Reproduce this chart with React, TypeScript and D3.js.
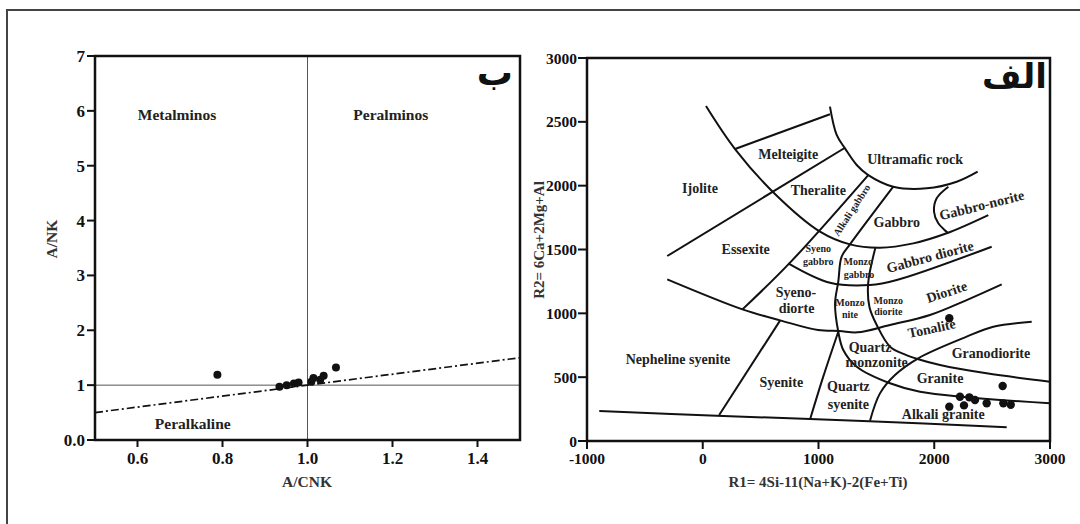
import React from "react";
import * as d3 from "d3";

// ---- left chart (A/CNK vs A/NK) ----
const acnk = [0.788, 0.934, 0.951, 0.968, 0.979, 1.009, 1.014, 1.03, 1.038, 1.067];
const ank = [1.19, 0.97, 1.0, 1.03, 1.05, 1.06, 1.13, 1.1, 1.17, 1.32];
const leftXTicks = [0.6, 0.8, 1.0, 1.2, 1.4];
const leftYTicks = [0, 1, 2, 3, 4, 5, 6, 7];
const leftLabels: [string, number, number][] = [
  ["Metalminos", 0.693, 5.93],
  ["Peralminos", 1.196, 5.93],
  ["Peralkaline", 0.73, 0.29],
];
const alkalineLine = [[0.5, 0.5], [1.5, 1.5]];

// ---- right chart (R1-R2 De la Roche) ----
const r1 = [2130, 2591, 2222, 2303, 2352, 2453, 2597, 2661, 2130, 2257];
const r2 = [961, 431, 347, 342, 321, 295, 295, 284, 269, 279];
const rightXTicks = [-1000, 0, 1000, 2000, 3000];
const rightYTicks = [0, 500, 1000, 1500, 2000, 2500, 3000];

const outerCurve = [[28, 2624], [279, 2287], [624, 1935], [1013, 1640], [1272, 1540], [1531, 1514], [1819, 1548], [2107, 1627], [2467, 1770]];
const ultramaficCurve = [[1099, 2619], [1157, 2397], [1229, 2292], [1330, 2162], [1430, 2083], [1646, 1992], [1935, 1979], [2194, 2031], [2375, 2110]];
const melteigiteTop = [[279, 2287], [1099, 2559]];
const essexiteTop = [[-307, 1449], [1229, 2297]];
const alkaliGabbroLeft = [[1430, 2083], [754, 1397], [343, 1031]];
const alkaliGabbroRight = [[1646, 1992], [1272, 1540], [1200, 1444], [1171, 1248], [1143, 1078], [1171, 856], [1214, 713], [1330, 582], [1618, 452], [1877, 386], [3000, 295]];
const dioriteTop = [[739, 1392], [1099, 1240], [1445, 1222], [1676, 1261], [2496, 1522]];
const monzodioriteCurve = [[1491, 1512], [1429, 1235], [1440, 1050], [1503, 909], [1618, 739], [1740, 680], [1863, 640], [2050, 595], [2452, 530], [3000, 465]];
const tonaliteTop = [[-307, 1266], [343, 1031], [669, 945], [996, 869], [1181, 862], [1336, 851], [1618, 909], [1963, 987], [2280, 1104], [2583, 1227]];
const syeniteLeft = [[142, 204], [669, 945]];
const quartzSyeniteLeft = [[930, 178], [1041, 504], [1171, 856]];
const granodioriteBottom = [[1445, 159], [1531, 373], [1661, 517], [1862, 648], [2280, 817], [2510, 895], [2842, 935]];
const baseLine = [[-894, 235], [120, 198], [1439, 155], [2626, 107]];
const gabbroNoriteBracket = [[2122, 1992], [2021, 1901], [1998, 1796], [2035, 1705], [2122, 1627]];

const fields = [outerCurve, ultramaficCurve, melteigiteTop, essexiteTop, alkaliGabbroLeft, alkaliGabbroRight,
  dioriteTop, monzodioriteCurve, tonaliteTop, syeniteLeft, quartzSyeniteLeft, granodioriteBottom, baseLine, gabbroNoriteBracket];

// [text, R1, R2, fontSize, rotation]
const rockLabels: [string, number, number, number, number][] = [
  ["Melteigite", 739, 2248, 14, 0],
  ["Ultramafic rock", 1834, 2206, 14, 0],
  ["Ijolite", -24, 1979, 14, 0],
  ["Theralite", 998, 1966, 14, 0],
  ["Alkali gabbro", 1287, 1809, 10, -57],
  ["Gabbro", 1676, 1718, 14, 0],
  ["Gabbro-norite", 2410, 1848, 14, -14],
  ["Essexite", 371, 1501, 14, 0],
  ["Syeno", 998, 1509, 10, 0],
  ["gabbro", 998, 1404, 10, 0],
  ["Monzo", 1344, 1404, 10, 0],
  ["gabbro", 1350, 1308, 10, 0],
  ["Gabbro diorite", 1963, 1444, 14, -15],
  ["Syeno-", 805, 1169, 14, 0],
  ["diorte", 810, 1039, 14, 0],
  ["Monzo", 1272, 1083, 10, 0],
  ["nite", 1272, 987, 10, 0],
  ["Monzo", 1603, 1104, 10, 0],
  ["diorite", 1603, 1013, 10, 0],
  ["Diorite", 2107, 1169, 14, -18],
  ["Tonalite", 1978, 883, 14, -12],
  ["Quartz", 1445, 739, 14, 0],
  ["monzonite", 1503, 621, 14, 0],
  ["Granodiorite", 2490, 692, 14, 0],
  ["Granite", 2050, 496, 14, 0],
  ["Quartz", 1258, 431, 14, 0],
  ["syenite", 1258, 290, 14, 0],
  ["Alkali granite", 2078, 211, 14, 0],
  ["Syenite", 679, 460, 14, 0],
  ["Nepheline syenite", -214, 642, 14, 0],
];

const serif = "'Liberation Serif', 'Times New Roman', serif";
const arabic = "'DejaVu Sans', sans-serif";

export default function App() {
  const lx = d3.scaleLinear().domain([0.5, 1.5]).range([95, 520]);
  const ly = d3.scaleLinear().domain([0, 7]).range([440, 56]);
  const rx = d3.scaleLinear().domain([-1000, 3000]).range([587, 1050]);
  const ry = d3.scaleLinear().domain([0, 3000]).range([441, 58]);

  const leftLine = d3.line<number[]>().x(d => lx(d[0])).y(d => ly(d[1]));
  const fieldLine = d3.line<number[]>().x(d => rx(d[0])).y(d => ry(d[1])).curve(d3.curveCatmullRom.alpha(0.5));

  return (
    <div style={{ position: "absolute", left: 0, top: 0 }}>
      <svg width={1080} height={524} style={{ display: "block", background: "#fff", fontFamily: serif, fontWeight: "bold" }}>
        <rect x={7} y={10} width={1200} height={700} fill="none" stroke="#444" strokeWidth={2} />

        {/* left chart */}
        <line x1={lx(1)} x2={lx(1)} y1={ly(7)} y2={ly(0)} stroke="#555" strokeWidth={1} />
        <line x1={lx(0.5)} x2={lx(1.5)} y1={ly(1)} y2={ly(1)} stroke="#555" strokeWidth={1} />
        <path d={leftLine(alkalineLine) || ""} fill="none" stroke="#111" strokeWidth={1.7} strokeDasharray="8,3,2,3" />
        {acnk.map((v, i) => (
          <circle key={i} cx={lx(v)} cy={ly(ank[i])} r={4} fill="#111" />
        ))}
        <rect x={lx(0.5)} y={ly(7)} width={lx(1.5) - lx(0.5)} height={ly(0) - ly(7)} fill="none" stroke="#111" strokeWidth={2.5} />
        {leftXTicks.map(t => (
          <g key={t}>
            <line x1={lx(t)} x2={lx(t)} y1={ly(0)} y2={ly(0) + 7} stroke="#111" strokeWidth={2} />
            <text x={lx(t)} y={464} textAnchor="middle" fontSize={17} fill="#111">{t.toFixed(1)}</text>
          </g>
        ))}
        {leftYTicks.map(t => (
          <g key={t}>
            <line x1={lx(0.5) - 8} x2={lx(0.5)} y1={ly(t)} y2={ly(t)} stroke="#111" strokeWidth={2} />
            <text x={lx(0.5) - 10} y={ly(t) + 6} textAnchor="end" fontSize={17} fill="#111">{t === 0 ? "0.0" : t}</text>
          </g>
        ))}
        {leftLabels.map(([s, x, y]) => (
          <text key={s} x={lx(x)} y={ly(y) + 5} textAnchor="middle" fontSize={15.5} fill="#222">{s}</text>
        ))}
        <text x={307} y={487} textAnchor="middle" fontSize={15.5} fill="#333">A/CNK</text>
        <text transform="translate(57,239) rotate(-90)" textAnchor="middle" fontSize={15.5} fill="#333">A/NK</text>
        <text x={513} y={85} textAnchor="end" fontSize={36} style={{ fontFamily: arabic }} fill="#111">ب</text>

        {/* right chart */}
        {fields.map((f, i) => (
          <path key={i} d={fieldLine(f) || ""} fill="none" stroke="#111" strokeWidth={2} strokeLinejoin="round" />
        ))}
        {rockLabels.map(([s, x, y, fs, rot], i) => (
          <text key={i} transform={`translate(${rx(x)},${ry(y)}) rotate(${rot})`} dy={fs * 0.35} textAnchor="middle" fontSize={fs} fill="#222">{s}</text>
        ))}
        {r1.map((v, i) => (
          <circle key={i} cx={rx(v)} cy={ry(r2[i])} r={4.2} fill="#111" />
        ))}
        <rect x={rx(-1000)} y={ry(3000)} width={rx(3000) - rx(-1000)} height={ry(0) - ry(3000)} fill="none" stroke="#111" strokeWidth={2.5} />
        {rightXTicks.map(t => (
          <g key={t}>
            <line x1={rx(t)} x2={rx(t)} y1={ry(0)} y2={ry(0) + 8} stroke="#111" strokeWidth={2} />
            <text x={rx(t)} y={464} textAnchor="middle" fontSize={15.5} fill="#111">{t}</text>
          </g>
        ))}
        {rightYTicks.map(t => (
          <g key={t}>
            <line x1={rx(-1000) - 9} x2={rx(-1000)} y1={ry(t)} y2={ry(t)} stroke="#111" strokeWidth={2} />
            <text x={rx(-1000) - 10} y={ry(t) + 5.5} textAnchor="end" fontSize={15.5} fill="#111">{t}</text>
          </g>
        ))}
        <text x={818} y={487} textAnchor="middle" fontSize={15} fill="#333">R1= 4Si-11(Na+K)-2(Fe+Ti)</text>
        <text transform="translate(544,240) rotate(-90)" textAnchor="middle" fontSize={15} fill="#333">R2= 6Ca+2Mg+Al</text>
        <text x={1047} y={88} textAnchor="end" fontSize={34} style={{ fontFamily: arabic }} fill="#111">الف</text>
      </svg>
    </div>
  );
}
